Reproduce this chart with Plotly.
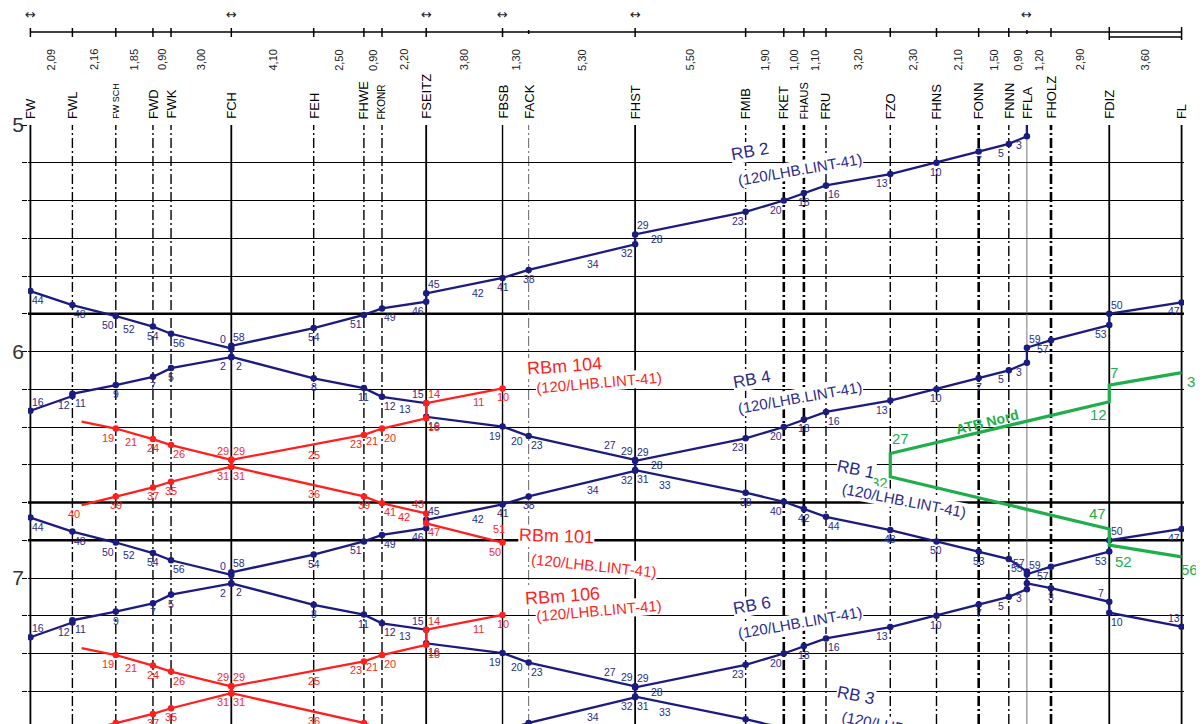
import plotly.graph_objects as go

# ---------------- data ----------------
stations = ["FW", "FWL", "FW SCH", "FWD", "FWK", "FCH", "FEH", "FHWE", "FKONR",
            "FSEITZ", "FBSB", "FACK", "FHST", "FMIB", "FKET", "FHAUS", "FRU",
            "FZO", "FHNS", "FONN", "FNNN", "FFLA", "FHOLZ", "FDIZ", "FL"]
distances_km = [2.09, 2.16, 1.85, 0.90, 3.00, 4.10, 2.50, 0.90, 2.20, 3.80, 1.30,
                5.30, 5.50, 1.90, 1.00, 1.10, 3.20, 2.30, 2.10, 1.50, 0.90, 1.20,
                2.90, 3.60]
arrow_stations = ["FW", "FCH", "FSEITZ", "FBSB", "FHST", "FFLA"]
hour_ticks = [300, 360, 420]
hour_labels = ["5", "6", "7"]
rbm_end_km = 2.55

# westbound RB (FL -> FW)
route_west = ["FL", "FDIZ", "FDIZ", "FHOLZ", "FFLA", "FFLA", "FNNN", "FONN", "FHNS", "FZO",
              "FRU", "FHAUS", "FKET", "FMIB", "FHST", "FHST", "FACK", "FBSB", "FSEITZ", "FSEITZ",
              "FKONR", "FHWE", "FEH", "FCH", "FCH", "FWK", "FWD", "FW SCH", "FWL", "FWL", "FW"]
labels_west = ["47", "50", "53", "57", "59", "3", "5", "7", "10", "13", "16", "18", "20", "23",
               "29", "32", "38", "41", "45", "46", "49", "51", "54", "58", "2", "5", "7", "9",
               "11", "12", "16"]
times_rb2 = [287, 290, 293, 297, 299, 303, 305, 307, 310, 313, 316, 318, 320, 323, 329, 331.6,
             338.4, 340.5, 344.6, 346.8, 348.6, 350.3, 353.8, 358.5, 361.5, 364.4, 366.7, 368.9,
             371.2, 371.8, 375.7]
times_rb4 = [347, 350, 353, 357, 359, 363, 365, 367, 370, 373, 376, 378, 380, 383, 389, 391.6,
             398.4, 400.5, 404.6, 406.8, 408.6, 410.3, 413.8, 418.5, 421.5, 424.4, 426.7, 428.9,
             431.2, 431.8, 435.7]
times_rb6 = [407, 410, 413, 417, 419, 423, 425, 427, 430, 433, 436, 438, 440, 443, 449, 451.6,
             458.4, 460.5, 464.6, 466.8, 468.6, 470.3, 473.8, 478.5, 481.5, 484.4, 486.7, 488.9,
             491.2, 491.8, 495.7]
notes_west_km = [31.2, 28.0, 22.3]
notes_west_text = ["28", "34", "42"]
notes_rb2_t = [327.8, 334.4, 342.1]
notes_rb4_t = [387.8, 394.4, 402.1]
notes_rb6_t = [447.8, 454.4, 462.1]

# eastbound RB (FW -> FL)
route_east = ["FW", "FWL", "FW SCH", "FWD", "FWK", "FCH", "FCH", "FEH", "FHWE", "FKONR",
              "FSEITZ", "FSEITZ", "FBSB", "FACK", "FHST", "FHST", "FMIB", "FKET", "FHAUS", "FRU",
              "FZO", "FHNS", "FONN", "FNNN", "FFLA", "FFLA", "FHOLZ", "FDIZ", "FDIZ", "FL"]
labels_east = ["44", "48", "50", "54", "56", "0", "2", "8", "11", "12", "15", "16", "19", "23",
               "29", "31", "38", "40", "42", "44", "48", "50", "53", "55", "57", "", "3", "7",
               "10", "13"]
times_rb1 = [344, 347.7, 350.6, 353.4, 355.3, 359.2, 361.4, 367.1, 369.7, 372, 373.7, 377.3,
             379.9, 382.4, 388.7, 391.4, 397.4, 399.8, 401.7, 403.8, 407.3, 410.3, 413, 415,
             418.3, 421.4, 422.7, 426.3, 429.2, 432.9]
times_rb3 = [404, 407.7, 410.6, 413.4, 415.3, 419.2, 421.4, 427.1, 429.7, 432, 433.7, 437.3,
             439.9, 442.4, 448.7, 451.4, 457.4, 459.8, 461.7, 463.8, 467.3, 470.3, 473, 475,
             478.3, 481.4, 482.7, 486.3, 489.2, 492.9]
notes_east_km = [4.9, 18.65, 24.2, 28.85, 31.6]
notes_east_text = ["52", "13", "20", "27", "33"]
notes_rb1_t = [351.6, 372.9, 381.2, 387.2, 393.0]
notes_rb3_t = [411.6, 432.9, 441.2, 447.2, 453.0]

# RBm westbound (FBSB -> near FWL)
route_rbm_west = ["FBSB", "FSEITZ", "FSEITZ", "FKONR", "FHWE", "FCH", "FCH", "FWK", "FWD",
                  "FW SCH", "END"]
labels_rbm_west = ["10", "14", "18", "20", "23", "29", "31", "35", "37", "39", "40"]
times_rbm104 = [369.8, 373.7, 377.7, 380.4, 382.1, 388.7, 390.5, 394.5, 396, 398.4, 400.7]
times_rbm106 = [429.8, 433.7, 437.7, 440.4, 442.1, 448.7, 450.5, 454.5, 456, 458.4, 460.7]
notes_rbmw_km = [22.3, 14.1, 17.0]
notes_rbmw_text = ["11", "25", "21"]
notes_rbm104_t = [371.0, 385.0, 381.3]
notes_rbm106_t = [431.0, 445.0, 441.3]

# RBm eastbound (near FWL -> FBSB)
route_rbm_east = ["END", "FW SCH", "FWD", "FWK", "FCH", "FCH", "FHWE", "FKONR", "FSEITZ",
                  "FSEITZ", "FBSB"]
labels_rbm_east = ["", "19", "24", "26", "29", "31", "39", "41", "43", "47", "50"]
times_rbm101 = [378.6, 380.4, 383.2, 384.8, 388.7, 390.5, 398.4, 400.2, 402.9, 405.5, 410.6]
times_rbm103 = [438.6, 440.4, 443.2, 444.8, 448.7, 450.5, 458.4, 460.2, 462.9, 465.5, 470.6]
notes_rbme_km = [5.0, 14.1, 18.6, 23.3]
notes_rbme_text = ["21", "36", "42", "51"]
notes_rbm101_t = [381.5, 395.4, 401.5, 409.5]
notes_rbm103_t = [441.5, 455.4, 461.5, 469.5]

# ATB Nord (green)
route_atb = ["FL", "FDIZ", "FDIZ", "FZO", "FZO", "FDIZ", "FDIZ", "FL"]
times_atb = [365.6, 368.9, 373.3, 387, 393.2, 407, 411.3, 414.4]
labels_atb = ["3", "7", "12", "27", "32", "47", "52", "56"]

# train name labels: text, km, minute
names_blue = [("RB 2", 35.8, 306.9), ("(120/LHB.LINT-41)", 38.3, 311.8),
              ("RB 4", 35.9, 367.5), ("(120/LHB.LINT-41)", 38.3, 372.1),
              ("RB 6", 35.9, 427.2), ("(120/LHB.LINT-41)", 38.3, 431.7)]
names_blue_down = [("RB 1", 41.1, 391.2), ("(120/LHB.LINT-41)", 43.5, 399.6),
                   ("RB 3", 41.1, 451.0), ("(120/LHB.LINT-41)", 43.5, 459.8)]
names_red = [("RBm 104", 26.6, 363.8, -4), ("(120/LHB.LINT-41)", 28.3, 368.1, -5),
             ("RBm 101", 26.2, 408.9, 2), ("(120/LHB.LINT-41)", 28.05, 416.6, 6),
             ("RBm 106", 26.5, 424.8, -4), ("(120/LHB.LINT-41)", 28.3, 428.7, -5)]
name_green = ("ATB Nord", 47.6, 378.7)

# ---------------- derived ----------------
km = [0.0]
for d in distances_km:
    km.append(round(km[-1] + d, 2))
pos = dict(zip(stations, km))
pos["END"] = rbm_end_km

BLUE = "#1b1b80"
BLUE_T = "#2b2b8c"
RED = "#ff1f1f"
GREEN = "#1fae4b"
FONT = "Liberation Sans"
T0, T1 = 300.0, 300.0 + 599 / 3.775

W, H = 1204, 724
# page body has an 8px default margin -> compensate
ML, MR, MT, MB = 20, 28, 117, 8
XR = [-0.12, 57.42]


def py(px):
    return (H - px) / 599.0


fig = go.Figure()
shapes = []
ann = []

# horizontal emphasised grid lines
for t in [350, 400, 410]:
    shapes.append(dict(type="line", xref="paper", yref="y", x0=0, x1=1, y0=t, y1=t,
                       line=dict(color="black", width=2.6), layer="below"))

# station lines
heavy_solid = {"FW", "FCH", "FSEITZ", "FHST", "FDIZ", "FL"}
solid_mid = {"FBSB"}
thin_gray = {"FFLA"}
heavy_dd = {"FKET", "FHAUS", "FONN", "FHOLZ"}
for s in stations:
    x = pos[s]
    if s in heavy_solid:
        ln = dict(color="black", width=1.8)
    elif s in solid_mid:
        ln = dict(color="black", width=1.4)
    elif s in thin_gray:
        ln = dict(color="#777", width=1)
    elif s == "FACK":
        ln = dict(color="#666", width=1, dash="10px,3px,2px,3px")
    elif s in heavy_dd:
        ln = dict(color="black", width=2.6, dash="10px,3px,2px,3px")
    else:
        ln = dict(color="black", width=1.4, dash="10px,3px,2px,3px")
    shapes.append(dict(type="line", xref="x", yref="paper", x0=x, x1=x, y0=0, y1=1,
                       line=ln, layer="below"))

# header ruler
ry = py(32)
shapes.append(dict(type="line", xref="x", yref="paper", x0=0, x1=pos["FL"], y0=ry, y1=ry,
                   line=dict(color="black", width=1.5)))
shapes.append(dict(type="line", xref="x", yref="paper", x0=pos["FDIZ"], x1=pos["FL"],
                   y0=py(37), y1=py(37), line=dict(color="black", width=1.5)))
for s in stations:
    if s in ("FACK", "FFLA"):
        y0, y1 = py(30), py(34)
    elif s in ("FDIZ", "FL"):
        y0, y1 = py(27), py(40)
    else:
        y0, y1 = py(28), py(37)
    shapes.append(dict(type="line", xref="x", yref="paper", x0=pos[s], x1=pos[s],
                       y0=y0, y1=y1, line=dict(color="black", width=1.5)))

for s in arrow_stations:
    ann.append(dict(x=pos[s], y=py(14), xref="x", yref="paper", text="↔", showarrow=False,
                    yanchor="middle",
                    font=dict(family="DejaVu Sans", size=13, color="#222")))

for i, d in enumerate(distances_km):
    xm = (km[i] + km[i + 1]) / 2
    ann.append(dict(x=xm, y=py(60), xref="x", yref="paper", yanchor="middle",
                    text=f"{d:.2f}".replace(".", ","), showarrow=False, textangle=-90,
                    font=dict(family=FONT, size=11, color="#222")))

small = {"FW SCH": 9, "FKONR": 10, "FHAUS": 11}
for s in stations:
    ann.append(dict(x=pos[s], y=py(121), xref="x", yref="paper", text=s, showarrow=False,
                    textangle=-90, yanchor="bottom",
                    font=dict(family=FONT, size=small.get(s, 13), color="black")))

OFF = {"b": (0, -9), "bl": (-8, -9), "br": (8, -9), "a": (0, 9), "al": (-8, 9), "ar": (8, 9)}
pos_west = ["bl", "ar", "bl", "bl", "ar", "bl", "bl", "b", "b", "bl", "br", "b", "bl", "bl",
            "ar", "bl", "b", "b", "ar", "bl", "br", "bl", "b", "ar", "bl", "b", "b", "b", "br",
            "bl", "ar"]
pos_east = ["br", "br", "bl", "b", "br", "al", "br", "b", "b", "br", "al", "br", "bl", "br",
            "al", "br", "b", "bl", "b", "br", "b", "b", "b", "br", "al", "br", "b", "al", "br",
            "al"]
pos_rbmw = ["b", "ar", "br", "br", "bl", "ar", "bl", "b", "b", "b", "bl"]
pos_rbme = ["b", "bl", "b", "br", "al", "br", "b", "br", "al", "br", "bl"]
notes_pos_west = ["b", "b", "b"]
notes_pos_east = ["b", "b", "b", "a", "b"]
notes_pos_rbmw = ["b", "b", "b"]
notes_pos_rbme = ["b", "b", "b", "a"]


def label(x, t, text, code, color, size):
    if not text or t < T0 or t > T1 - 0.5:
        return
    dx, dy = OFF[code]
    ann.append(dict(x=x, y=t, xref="x", yref="y", text=text, showarrow=False,
                    xshift=dx, yshift=dy, font=dict(family=FONT, size=size, color=color)))


def train(name, route, times, labels, codes, color, tcolor, size, width):
    xs = [pos[s] for s in route]
    fig.add_trace(go.Scatter(x=xs, y=times, mode="lines", name=name,
                             line=dict(color=color, width=width), showlegend=False,
                             hoverinfo="skip"))
    dx = [x for x, s in zip(xs, route) if s != "END"]
    dt = [t for t, s in zip(times, route) if s != "END"]
    fig.add_trace(go.Scatter(x=dx, y=dt, mode="markers", showlegend=False,
                             marker=dict(color=color, size=6.5), hoverinfo="skip"))
    for x, t, lab, c in zip(xs, times, labels, codes):
        label(x, t, lab, c, tcolor, size)


def notes(kms, ts, texts, codes, color, size):
    for x, t, lab, c in zip(kms, ts, texts, codes):
        label(x, t, lab, c, color, size)


train("RB 2", route_west, times_rb2, labels_west, pos_west, BLUE, BLUE_T, 10.5, 2.3)
train("RB 4", route_west, times_rb4, labels_west, pos_west, BLUE, BLUE_T, 10.5, 2.3)
train("RB 6", route_west, times_rb6, labels_west, pos_west, BLUE, BLUE_T, 10.5, 2.3)
train("RB 1", route_east, times_rb1, labels_east, pos_east, BLUE, BLUE_T, 10.5, 2.3)
train("RB 3", route_east, times_rb3, labels_east, pos_east, BLUE, BLUE_T, 10.5, 2.3)
notes(notes_west_km, notes_rb2_t, notes_west_text, notes_pos_west, BLUE_T, 10.5)
notes(notes_west_km, notes_rb4_t, notes_west_text, notes_pos_west, BLUE_T, 10.5)
notes(notes_west_km, notes_rb6_t, notes_west_text, notes_pos_west, BLUE_T, 10.5)
notes(notes_east_km, notes_rb1_t, notes_east_text, notes_pos_east, BLUE_T, 10.5)
notes(notes_east_km, notes_rb3_t, notes_east_text, notes_pos_east, BLUE_T, 10.5)

train("RBm 104", route_rbm_west, times_rbm104, labels_rbm_west, pos_rbmw, RED, RED, 11, 2.3)
train("RBm 106", route_rbm_west, times_rbm106, labels_rbm_west, pos_rbmw, RED, RED, 11, 2.3)
train("RBm 101", route_rbm_east, times_rbm101, labels_rbm_east, pos_rbme, RED, RED, 11, 2.3)
train("RBm 103", route_rbm_east, times_rbm103, labels_rbm_east, pos_rbme, RED, RED, 11, 2.3)
notes(notes_rbmw_km, notes_rbm104_t, notes_rbmw_text, notes_pos_rbmw, RED, 11)
notes(notes_rbmw_km, notes_rbm106_t, notes_rbmw_text, notes_pos_rbmw, RED, 11)
notes(notes_rbme_km, notes_rbm101_t, notes_rbme_text, notes_pos_rbme, RED, 11)
notes(notes_rbme_km, notes_rbm103_t, notes_rbme_text, notes_pos_rbme, RED, 11)

fig.add_trace(go.Scatter(x=[pos[s] for s in route_atb], y=times_atb, mode="lines",
                         line=dict(color=GREEN, width=3.2), showlegend=False,
                         hoverinfo="skip"))
atb_off = [(9, -9), (5, 13), (-11, -13), (10, 15), (-11, -6), (-12, 15), (14, -16), (8, -13)]
for s, t, lab, (dx, dy) in zip(route_atb, times_atb, labels_atb, atb_off):
    ann.append(dict(x=pos[s], y=t, xref="x", yref="y", text=lab, showarrow=False,
                    xshift=dx, yshift=dy, font=dict(family=FONT, size=15, color=GREEN)))


def pyt(t):
    return 1 - (t - T0) / (T1 - T0)


for i, (txt, x, t) in enumerate(names_blue):
    ann.append(dict(x=x, y=pyt(t), xref="x", yref="paper", text=txt, showarrow=False,
                    textangle=-10, bgcolor="white", borderpad=0, yanchor="middle",
                    xanchor="center",
                    font=dict(family=FONT, size=17 if i % 2 == 0 else 15, color=BLUE_T)))
for i, (txt, x, t) in enumerate(names_blue_down):
    ann.append(dict(x=x, y=pyt(t), xref="x", yref="paper", text=txt, showarrow=False,
                    textangle=11, bgcolor="white", borderpad=0, yanchor="middle",
                    xanchor="center",
                    font=dict(family=FONT, size=17 if i % 2 == 0 else 15, color=BLUE_T)))
for i, (txt, x, t, a) in enumerate(names_red):
    ann.append(dict(x=x, y=pyt(t), xref="x", yref="paper", text=txt, showarrow=False,
                    textangle=a, bgcolor="white", borderpad=0, yanchor="middle",
                    xanchor="center",
                    font=dict(family=FONT, size=18 if i % 2 == 0 else 15, color=RED)))
ann.append(dict(x=name_green[1], y=pyt(name_green[2]), xref="x", yref="paper",
                text="<b>" + name_green[0] + "</b>", showarrow=False, textangle=-14,
                yanchor="middle", xanchor="center",
                font=dict(family=FONT, size=14, color=GREEN)))

tickvals = list(range(300, 460, 10))
ticktext = [hour_labels[hour_ticks.index(v)] if v in hour_ticks else "" for v in tickvals]

fig.update_layout(
    width=W, height=H, margin=dict(l=ML, r=MR, t=MT, b=MB, autoexpand=False),
    paper_bgcolor="white", plot_bgcolor="white",
    shapes=shapes, annotations=ann, showlegend=False,
    xaxis=dict(range=XR, showgrid=False, zeroline=False, showticklabels=False,
               showline=False, ticks="", automargin=False),
    yaxis=dict(range=[T1, T0], tickvals=tickvals, ticktext=ticktext, showgrid=True,
               gridcolor="black", gridwidth=1.3, zeroline=False, ticks="outside",
               ticklen=5, tickcolor="black", tickwidth=1.3, showline=False,
               automargin=False, ticklabelstandoff=-6,
               tickfont=dict(family=FONT, size=21, color="#333")),
)

fig.write_html("out.html")
